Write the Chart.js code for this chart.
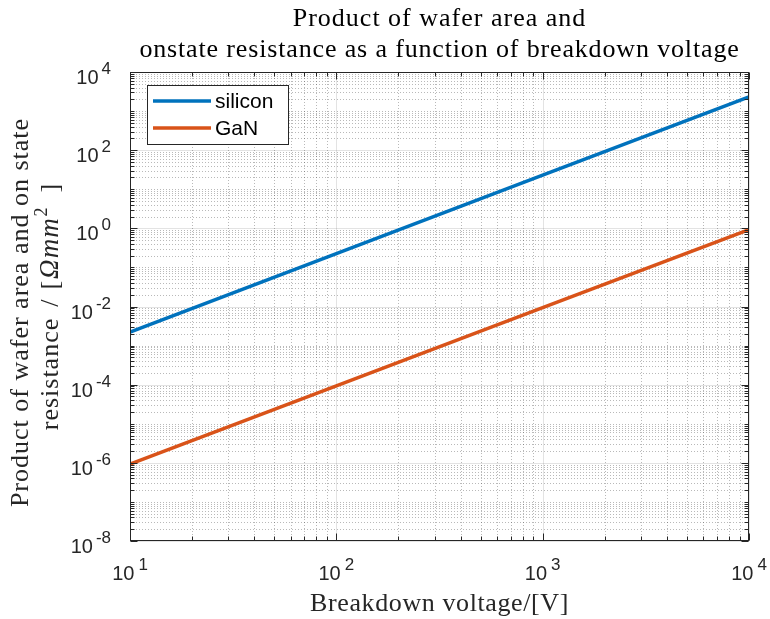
<!DOCTYPE html>
<html>
<head>
<meta charset="utf-8">
<script src="https://cdn.jsdelivr.net/npm/chart.js@4.4.1/dist/chart.umd.min.js"></script>
<style>
  html, body { margin: 0; padding: 0; background: #fff; }
</style>
</head>
<body>
<canvas id="chart" width="770" height="619"></canvas>
<script>
// breakdown voltage [V] and area * on-resistance [Ohm mm^2]
const voltage = [10, 100, 1000, 10000];
const siliconRA = [2.2e-3, 0.225, 23, 2300];
const ganRA = [9.3e-7, 9.3e-5, 9.3e-3, 0.93];

const seriesNames = ['silicon', 'GaN'];
const seriesColors = ['#0072BD', '#D95319'];

// labelled decades on each axis
const xMajorTicks = [10, 100, 1000, 10000];
const yMajorTicks = [1e-8, 1e-6, 1e-4, 1e-2, 1, 1e2, 1e4];

const titleLines = ['Product of wafer area and', 'onstate resistance as a function of breakdown voltage'];
const xTitle = 'Breakdown voltage/[V]';

const axisColor = '#262626';
const serif = '"Liberation Serif", "Times New Roman", serif';
const sans = '"Liberation Sans", Arial, sans-serif';

function toPoints(xs, ys) {
    return xs.map(function(x, i) { return { x: x, y: ys[i] }; });
}

// every 1..9 x 10^n inside [min, max]
function minorTicks(min, max) {
    var out = [];
    for (var e = Math.floor(Math.log10(min)); e <= Math.ceil(Math.log10(max)); e++) {
        for (var m = 1; m <= 9; m++) {
            var v = m * Math.pow(10, e);
            if (v >= min * 0.999 && v <= max * 1.001) out.push(v);
        }
    }
    return out;
}

function isMajor(list, v) {
    return list.some(function(t) { return Math.abs(t - v) / v < 1e-6; });
}

function drawPower(ctx, exp, x, y, align) {
    ctx.letterSpacing = '0px';
    ctx.font = '20px ' + sans;
    var wBase = ctx.measureText('10').width;
    ctx.font = '17px ' + sans;
    var wExp = ctx.measureText(String(exp)).width;
    var gap = align === 'right' ? 3 : 4;
    var total = wBase + gap + wExp;
    var start = align === 'right' ? x - total : x - total / 2;
    ctx.textAlign = 'left';
    ctx.textBaseline = 'alphabetic';
    ctx.fillStyle = axisColor;
    ctx.font = '20px ' + sans;
    ctx.fillText('10', start, y);
    ctx.font = '17px ' + sans;
    ctx.fillText(String(exp), start + wBase + gap, y - 10);
}

// draws a run of text pieces centred on (0, 0), each with its own font and offsets
function drawRun(ctx, parts) {
    var total = 0;
    parts.forEach(function(p) {
        ctx.font = p.f;
        p.w = ctx.measureText(p.t).width + (p.gap || 0);
        total += p.w;
    });
    var px = -total / 2;
    ctx.textAlign = 'left';
    parts.forEach(function(p) {
        ctx.font = p.f;
        ctx.fillText(p.t, px, p.dy || 0);
        px += p.w;
    });
}

const framePlugin = {
    id: 'frame',
    beforeDatasetsDraw: function(chart) {
        var ctx = chart.ctx;
        var a = chart.chartArea;
        var xs = chart.scales.x, ys = chart.scales.y;
        ctx.save();
        // minor grid, dotted
        ctx.strokeStyle = 'rgba(38,38,38,0.32)';
        ctx.lineWidth = 1;
        ctx.setLineDash([1, 2]);
        minorTicks(xs.min, xs.max).forEach(function(v) {
            if (isMajor(xMajorTicks, v)) return;
            var p = Math.round(xs.getPixelForValue(v)) + 0.5;
            ctx.beginPath(); ctx.moveTo(p, a.top); ctx.lineTo(p, a.bottom); ctx.stroke();
        });
        minorTicks(ys.min, ys.max).forEach(function(v) {
            if (isMajor(yMajorTicks, v)) return;
            var p = Math.round(ys.getPixelForValue(v)) + 0.5;
            ctx.beginPath(); ctx.moveTo(a.left, p); ctx.lineTo(a.right, p); ctx.stroke();
        });
        // major grid, solid
        ctx.setLineDash([]);
        ctx.strokeStyle = 'rgba(38,38,38,0.13)';
        xMajorTicks.forEach(function(v) {
            var p = Math.round(xs.getPixelForValue(v)) + 0.5;
            ctx.beginPath(); ctx.moveTo(p, a.top); ctx.lineTo(p, a.bottom); ctx.stroke();
        });
        yMajorTicks.forEach(function(v) {
            var p = Math.round(ys.getPixelForValue(v)) + 0.5;
            ctx.beginPath(); ctx.moveTo(a.left, p); ctx.lineTo(a.right, p); ctx.stroke();
        });
        ctx.restore();
    },
    afterDatasetsDraw: function(chart) {
        var ctx = chart.ctx;
        var a = chart.chartArea;
        var xs = chart.scales.x, ys = chart.scales.y;
        ctx.save();

        // box and inward ticks on all four sides
        ctx.strokeStyle = axisColor;
        ctx.lineWidth = 1;
        var L = Math.round(a.left) + 0.5, R = Math.round(a.right) - 0.5;
        var T = Math.round(a.top) + 0.5, B = Math.round(a.bottom) - 0.5;
        ctx.strokeRect(L, T, R - L, B - T);
        ctx.beginPath();
        minorTicks(xs.min, xs.max).forEach(function(v) {
            var len = isMajor(xMajorTicks, v) ? 7 : 4;
            var p = Math.round(xs.getPixelForValue(v)) + 0.5;
            ctx.moveTo(p, B); ctx.lineTo(p, B - len);
            ctx.moveTo(p, T); ctx.lineTo(p, T + len);
        });
        minorTicks(ys.min, ys.max).forEach(function(v) {
            var len = isMajor(yMajorTicks, v) ? 7 : 4;
            var p = Math.round(ys.getPixelForValue(v)) + 0.5;
            ctx.moveTo(L, p); ctx.lineTo(L + len, p);
            ctx.moveTo(R, p); ctx.lineTo(R - len, p);
        });
        ctx.stroke();

        // tick labels as powers of ten
        xMajorTicks.forEach(function(v) {
            drawPower(ctx, Math.round(Math.log10(v)), xs.getPixelForValue(v), a.bottom + 39, 'center');
        });
        yMajorTicks.forEach(function(v) {
            drawPower(ctx, Math.round(Math.log10(v)), a.left - 19, ys.getPixelForValue(v) + 12, 'right');
        });

        // title
        var cx = (a.left + a.right) / 2;
        ctx.fillStyle = '#000';
        ctx.font = '26px ' + serif;
        ctx.textAlign = 'center';
        ctx.textBaseline = 'alphabetic';
        ctx.letterSpacing = '1px';
        ctx.fillText(titleLines[0], cx, 26);
        ctx.letterSpacing = '0.85px';
        ctx.fillText(titleLines[1], cx, 57);

        // x axis title
        ctx.fillStyle = axisColor;
        ctx.letterSpacing = '0.6px';
        ctx.fillText(xTitle, cx, 611);

        // y axis title, two rotated lines
        ctx.letterSpacing = '1px';
        var cy = (a.top + a.bottom) / 2;
        ctx.save();
        ctx.translate(28, cy + 6);
        ctx.rotate(-Math.PI / 2);
        ctx.fillText('Product of wafer area and on state', 0, 0);
        ctx.restore();

        ctx.save();
        ctx.translate(58, cy);
        ctx.rotate(-Math.PI / 2);
        drawRun(ctx, [
            { t: 'resistance', f: '26px ' + serif, gap: 11 },
            { t: '/', f: '26px ' + serif, gap: 9 },
            { t: '[', f: '26px ' + serif, gap: 1 },
            { t: '\u03A9mm', f: 'italic 27px ' + serif, gap: 1 },
            { t: '2', f: '18px ' + serif, dy: -11, gap: 14 },
            { t: ']', f: '26px ' + serif }
        ]);
        ctx.restore();
        ctx.letterSpacing = '0px';

        // legend
        ctx.fillStyle = '#fff';
        ctx.fillRect(147.5, 85.5, 141, 59);
        ctx.strokeStyle = axisColor;
        ctx.lineWidth = 1;
        ctx.strokeRect(147.5, 85.5, 141, 59);
        chart.data.datasets.forEach(function(ds, i) {
            var y = 101 + i * 27;
            ctx.strokeStyle = ds.borderColor;
            ctx.lineWidth = 3.5;
            ctx.beginPath(); ctx.moveTo(153, y); ctx.lineTo(211, y); ctx.stroke();
            ctx.fillStyle = '#000';
            ctx.font = '21px ' + sans;
            ctx.textAlign = 'left';
            ctx.textBaseline = 'middle';
            ctx.fillText(ds.label, 215, y + 1);
        });

        ctx.restore();
    }
};

const ctx = document.getElementById('chart').getContext('2d');
const chart = new Chart(ctx, {
    type: 'scatter',
    data: {
        datasets: [{
            label: seriesNames[0],
            data: toPoints(voltage, siliconRA),
            borderColor: seriesColors[0],
            backgroundColor: seriesColors[0],
            borderWidth: 3.5,
            showLine: true,
            pointRadius: 0,
            tension: 0
        }, {
            label: seriesNames[1],
            data: toPoints(voltage, ganRA),
            borderColor: seriesColors[1],
            backgroundColor: seriesColors[1],
            borderWidth: 3.5,
            showLine: true,
            pointRadius: 0,
            tension: 0
        }]
    },
    options: {
        responsive: false,
        animation: false,
        devicePixelRatio: 1,
        layout: {
            padding: { left: 130, right: 21, top: 72, bottom: 78 }
        },
        scales: {
            x: { type: 'logarithmic', min: 10, max: 10000, display: false },
            y: { type: 'logarithmic', min: 1e-8, max: 1e4, display: false }
        },
        plugins: {
            legend: { display: false },
            title: { display: false },
            tooltip: { enabled: false }
        }
    },
    plugins: [framePlugin]
});
</script>
</body>
</html>
